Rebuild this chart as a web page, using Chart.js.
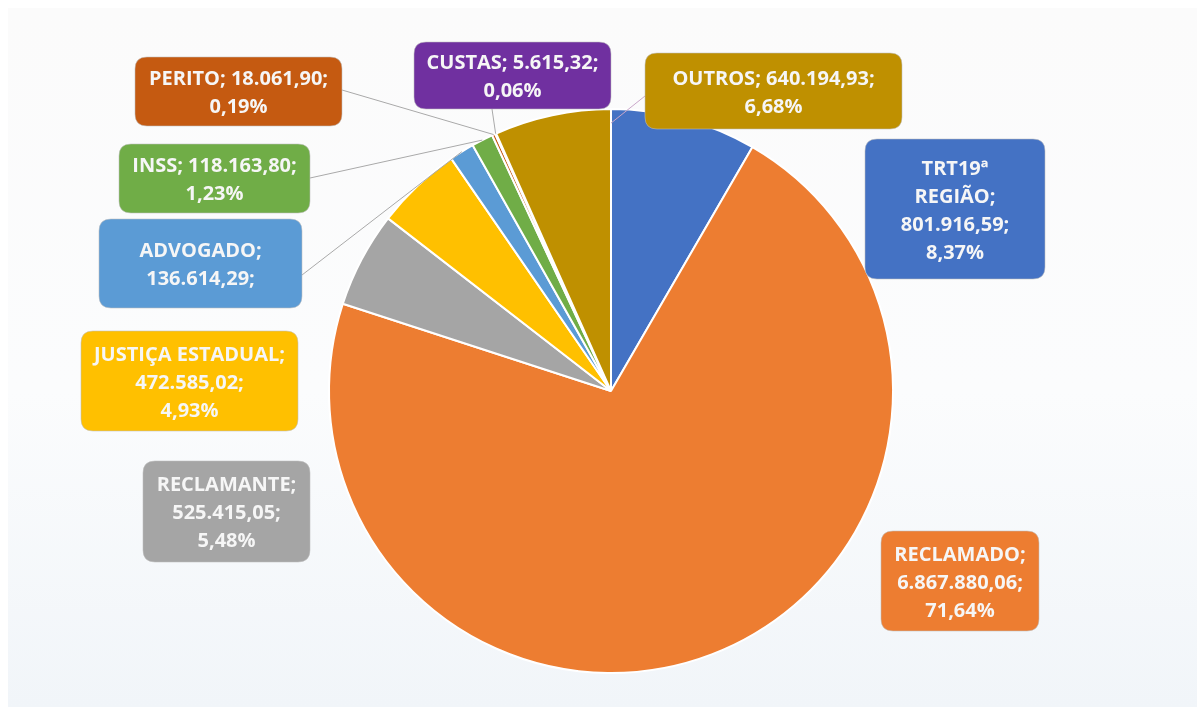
<!DOCTYPE html>
<html><head><meta charset="utf-8">
<script src="https://cdn.jsdelivr.net/npm/chart.js@4.4.1/dist/chart.umd.min.js"></script>
<style>
html,body{margin:0;padding:0;background:#fff;}
#wrap{position:relative;width:1197px;height:707px;overflow:hidden;}
#panel{position:absolute;left:8px;top:8px;right:0;bottom:0;background:linear-gradient(#fbfbfb,#fbfcfd 55%,#f1f5f9);}
canvas{position:absolute;left:0;top:0;}
</style></head><body>
<div id="wrap"><div id="panel"></div><canvas id="c" width="1197" height="707"></canvas></div>
<script>
const categories = ['TRT19ª REGIÃO','RECLAMADO','RECLAMANTE','JUSTIÇA ESTADUAL','ADVOGADO','INSS','PERITO','CUSTAS','OUTROS'];
const values = [801916.59, 6867880.06, 525415.05, 472585.02, 136614.29, 118163.80, 18061.90, 5615.32, 640194.93];
const percentLabels = ['8,37%','71,64%','5,48%','4,93%', null, '1,23%','0,19%','0,06%','6,68%'];
const colors = ['#4472C4','#ED7D31','#A5A5A5','#FFC000','#5B9BD5','#70AD47','#C55A11','#7030A0','#BF9000'];

// label box layout (page pixels) and line grouping of tokens
const labelLayout = [
  {x:865,y:139,w:180,h:140,rows:[1,1,1,1]},
  {x:881,y:531,w:158,h:100,rows:[1,1,1]},
  {x:143,y:461,w:167,h:101,rows:[1,1,1]},
  {x:81,y:331,w:217,h:100,rows:[2,1,1]},
  {x:99,y:219,w:203,h:89,rows:[1,1],leader:{from:[302,275]}},
  {x:119,y:144,w:191,h:69,rows:[2,1],leader:{from:[310,178]}},
  {x:135,y:57,w:207,h:69,rows:[2,1],leader:{from:[342,90]}},
  {x:414,y:42,w:197,h:67,rows:[2,1],leader:{from:[492,109]}},
  {x:645,y:53,w:257,h:76,rows:[2,1],leader:{from:[645,96],at:'end',rf:0.95,color:'#c9a6c9'}}
];

function fmt(v){ const p = v.toFixed(2).split('.'); return p[0].replace(/\B(?=(\d{3})+(?!\d))/g,'.')+','+p[1]; }
function tokens(i){
  const w = categories[i].split(' ');
  w[w.length-1] += ';';
  const t = w.concat([fmt(values[i])+';']);
  if (percentLabels[i]) t.push(percentLabels[i]);
  return t;
}
function rr(ctx,x,y,w,h,r){
  ctx.beginPath();
  ctx.moveTo(x+r,y); ctx.lineTo(x+w-r,y); ctx.quadraticCurveTo(x+w,y,x+w,y+r);
  ctx.lineTo(x+w,y+h-r); ctx.quadraticCurveTo(x+w,y+h,x+w-r,y+h);
  ctx.lineTo(x+r,y+h); ctx.quadraticCurveTo(x,y+h,x,y+h-r);
  ctx.lineTo(x,y+r); ctx.quadraticCurveTo(x,y,x+r,y); ctx.closePath();
}

const boxLabels = {
  id:'boxLabels',
  afterDatasetsDraw(chart){
    const ctx = chart.ctx, meta = chart.getDatasetMeta(0);
    ctx.save();
    labelLayout.forEach((L,i)=>{
      if(!L.leader) return;
      const arc = meta.data[i];
      const a = L.leader.at==='end' ? arc.endAngle : (arc.startAngle+arc.endAngle)/2;
      const r = arc.outerRadius*(L.leader.rf||1);
      ctx.beginPath();
      ctx.moveTo(L.leader.from[0], L.leader.from[1]);
      ctx.lineTo(arc.x+Math.cos(a)*r, arc.y+Math.sin(a)*r);
      ctx.strokeStyle = L.leader.color || '#a9a9a9'; ctx.lineWidth = 1; ctx.stroke();
    });
    labelLayout.forEach((L,i)=>{
      rr(ctx,L.x,L.y,L.w,L.h,12);
      ctx.fillStyle = colors[i]; ctx.fill();
      ctx.strokeStyle = 'rgba(190,190,190,0.55)'; ctx.lineWidth = 1; ctx.stroke();
      const t = tokens(i); const lines = []; let k = 0;
      L.rows.forEach(n=>{ lines.push(t.slice(k,k+n).join(' ')); k+=n; });
      ctx.font = 'bold 20px "Open Sans", sans-serif';
      ctx.fillStyle = '#f6f6f6'; ctx.textAlign = 'center'; ctx.textBaseline = 'middle';
      const lh = 28, cx = L.x+L.w/2, cy = L.y+L.h/2+2;
      lines.forEach((s,j)=> ctx.fillText(s, cx, cy + (j-(lines.length-1)/2)*lh));
    });
    ctx.restore();
  }
};

new Chart(document.getElementById('c'), {
  type:'pie',
  data:{ labels:categories, datasets:[{ data:values, backgroundColor:colors, borderColor:'#ffffff', borderWidth:2, hoverOffset:0 }] },
  options:{
    responsive:false, animation:false, events:[],
    layout:{ padding:{left:327,right:302,top:108,bottom:33} },
    plugins:{ legend:{display:false}, tooltip:{enabled:false}, title:{display:false} }
  },
  plugins:[boxLabels]
});
</script>
</body></html>
